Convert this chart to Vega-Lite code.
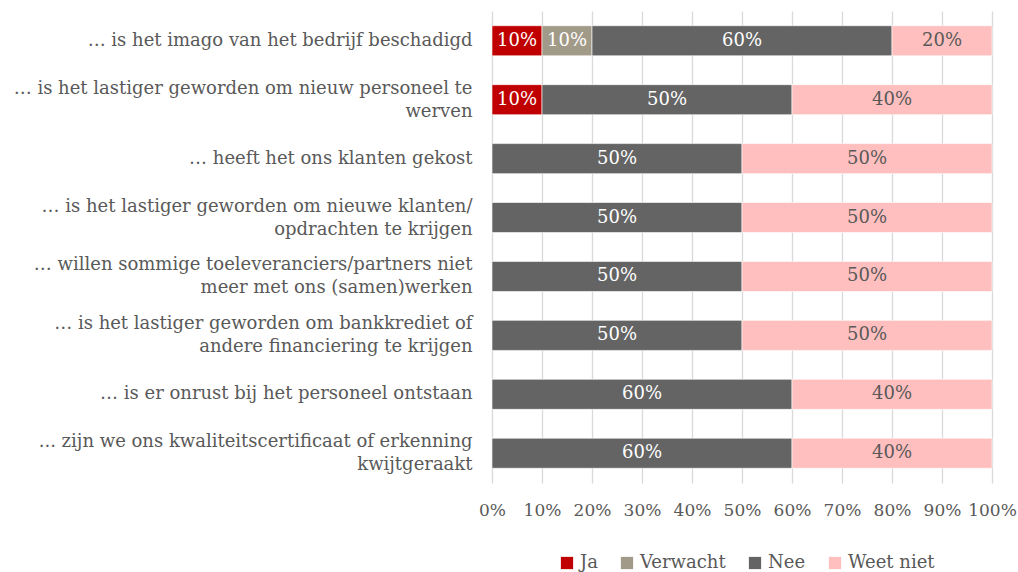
{
  "$schema": "https://vega.github.io/schema/vega-lite/v6.json",
  "width": 500,
  "height": 472,
  "autosize": {"type": "none"},
  "padding": {"left": 492, "top": 11, "right": 26, "bottom": 89},
  "background": "white",
  "config": {
    "view": {"stroke": null},
    "font": "DejaVu Serif",
    "text": {"font": "DejaVu Serif"},
    "axis": {"labelFont": "DejaVu Serif", "labelColor": "#595959"},
    "legend": {"labelFont": "DejaVu Serif", "labelColor": "#595959"}
  },
  "data": {
    "values": [
      {"item": "… is het imago van het bedrijf beschadigd", "answer": "Ja", "value": 0.1},
      {"item": "… is het imago van het bedrijf beschadigd", "answer": "Verwacht", "value": 0.1},
      {"item": "… is het imago van het bedrijf beschadigd", "answer": "Nee", "value": 0.6},
      {"item": "… is het imago van het bedrijf beschadigd", "answer": "Weet niet", "value": 0.2},
      {"item": "… is het lastiger geworden om nieuw personeel te|werven", "answer": "Ja", "value": 0.1},
      {"item": "… is het lastiger geworden om nieuw personeel te|werven", "answer": "Nee", "value": 0.5},
      {"item": "… is het lastiger geworden om nieuw personeel te|werven", "answer": "Weet niet", "value": 0.4},
      {"item": "… heeft het ons klanten gekost", "answer": "Nee", "value": 0.5},
      {"item": "… heeft het ons klanten gekost", "answer": "Weet niet", "value": 0.5},
      {"item": "… is het lastiger geworden om nieuwe klanten/|opdrachten te krijgen", "answer": "Nee", "value": 0.5},
      {"item": "… is het lastiger geworden om nieuwe klanten/|opdrachten te krijgen", "answer": "Weet niet", "value": 0.5},
      {"item": "… willen sommige toeleveranciers/partners niet|meer met ons (samen)werken", "answer": "Nee", "value": 0.5},
      {"item": "… willen sommige toeleveranciers/partners niet|meer met ons (samen)werken", "answer": "Weet niet", "value": 0.5},
      {"item": "… is het lastiger geworden om bankkrediet of|andere financiering te krijgen", "answer": "Nee", "value": 0.5},
      {"item": "… is het lastiger geworden om bankkrediet of|andere financiering te krijgen", "answer": "Weet niet", "value": 0.5},
      {"item": "… is er onrust bij het personeel ontstaan", "answer": "Nee", "value": 0.6},
      {"item": "… is er onrust bij het personeel ontstaan", "answer": "Weet niet", "value": 0.4},
      {"item": "... zijn we ons kwaliteitscertificaat of erkenning|kwijtgeraakt", "answer": "Nee", "value": 0.6},
      {"item": "... zijn we ons kwaliteitscertificaat of erkenning|kwijtgeraakt", "answer": "Weet niet", "value": 0.4}
    ]
  },
  "transform": [
    {"calculate": "indexof(['Ja', 'Verwacht', 'Nee', 'Weet niet'], datum.answer)", "as": "answerOrder"}
  ],
  "encoding": {
    "y": {
      "field": "item", "type": "nominal", "sort": null, "title": null,
      "scale": {"paddingInner": 0.49, "paddingOuter": 0.25},
      "axis": {
        "labelExpr": "split(datum.label, '|')",
        "labelFontSize": 18, "labelLimit": 500, "labelPadding": 20,
        "labelLineHeight": 23,
        "labelOffset": {"condition": {"test": "indexof(datum.value, '|') >= 0", "value": -11}, "value": 0},
        "ticks": false, "domain": false, "grid": false
      }
    },
    "x": {
      "field": "value", "type": "quantitative", "stack": "zero", "title": null,
      "scale": {"domain": [0, 1]},
      "axis": {
        "format": ".0%", "values": [0, 0.1, 0.2, 0.3, 0.4, 0.5, 0.6, 0.7, 0.8, 0.9, 1],
        "labelFontSize": 17, "labelPadding": 19, "labelOverlap": false, "labelBound": false,
        "labelFlush": false,
        "domain": false, "ticks": false,
        "grid": true, "gridColor": "#D9D9D9", "gridWidth": 1.3
      }
    },
    "order": {"field": "answerOrder", "type": "quantitative", "sort": "ascending"}
  },
  "layer": [
    {
      "mark": {"type": "bar", "stroke": "#FFFFFF", "strokeOpacity": 0.6, "strokeWidth": 1},
      "encoding": {
        "color": {
          "field": "answer", "type": "nominal", "title": null,
          "sort": ["Ja", "Verwacht", "Nee", "Weet niet"],
          "scale": {"domain": ["Ja", "Verwacht", "Nee", "Weet niet"], "range": ["#C00000", "#A29A88", "#646464", "#FFBFBF"]},
          "legend": {
            "orient": "none", "legendX": 66, "legendY": 543, "direction": "horizontal",
            "symbolType": "square", "symbolSize": 150, "symbolStrokeWidth": 0,
            "labelFontSize": 18, "labelOffset": 4, "columnPadding": 20
          }
        }
      }
    },
    {
      "mark": {"type": "text", "fontSize": 18, "baseline": "middle"},
      "encoding": {
        "x": {"field": "value", "type": "quantitative", "stack": "zero", "bandPosition": 0.5},
        "text": {"field": "value", "type": "quantitative", "format": ".0%"},
        "color": {
          "condition": {"test": "datum.answer === 'Weet niet'", "value": "#595959"},
          "value": "#FFFFFF"
        }
      }
    }
  ]
}
